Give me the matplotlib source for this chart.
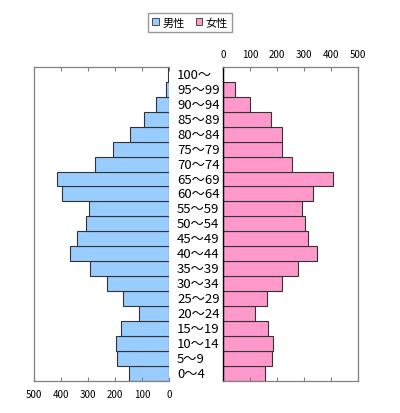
import matplotlib
matplotlib.use("Agg")
import matplotlib.pyplot as plt
from matplotlib.patches import Patch

plt.rcParams['font.family'] = ['Noto Sans CJK JP', 'DejaVu Sans']

ages = ["0～4", "5～9", "10～14", "15～19", "20～24", "25～29", "30～34",
        "35～39", "40～44", "45～49", "50～54", "55～59", "60～64", "65～69",
        "70～74", "75～79", "80～84", "85～89", "90～94", "95～99", "100～"]
male = [147, 191, 198, 179, 110, 172, 230, 291, 368, 342, 309, 295, 395, 414,
        273, 209, 144, 91, 49, 10, 5]
female = [157, 181, 185, 167, 119, 162, 219, 277, 348, 314, 304, 294, 333, 407,
          257, 220, 220, 177, 100, 44, 0]
ticks = [0, 100, 200, 300, 400, 500]

male_color = "#99CCFF"
female_color = "#FF99CC"
spine_gray = "#808080"

fig = plt.figure(figsize=(4.0, 4.14), dpi=100)
ax_l = fig.add_axes([0.085, 0.0785, 0.3375, 0.757])
ax_r = fig.add_axes([0.5575, 0.0785, 0.3375, 0.757])

y = list(range(len(ages)))
ax_l.barh(y, male, height=1.0, color=male_color, edgecolor="#333333", linewidth=0.8)
ax_r.barh(y, female, height=1.0, color=female_color, edgecolor="#333333", linewidth=0.8)

for ax in (ax_l, ax_r):
    ax.set_ylim(-0.5, len(ages) - 0.5)
    ax.set_xlim(0, 500)
    ax.set_yticks([])
    ax.set_xticks(ticks)
    ax.tick_params(axis="x", direction="in", length=3, color=spine_gray,
                   labelsize=7, top=True, bottom=True, pad=6)
    for s in ax.spines.values():
        s.set_color(spine_gray)
        s.set_linewidth(0.9)

ax_l.invert_xaxis()
ax_l.spines["right"].set_visible(False)
ax_l.tick_params(axis="x", labeltop=False, labelbottom=True)

ax_r.spines["left"].set_color("black")
ax_r.spines["left"].set_linewidth(1.0)
ax_r.tick_params(axis="x", labeltop=True, labelbottom=False)

for i, lab in enumerate(ages):
    ax_r.text(-170, i, lab, ha="left", va="center", fontsize=9.5, clip_on=False)

handles = [Patch(facecolor=male_color, edgecolor="#333333", linewidth=0.6, label="男性"),
           Patch(facecolor=female_color, edgecolor="#333333", linewidth=0.6, label="女性")]
fig.legend(handles=handles, loc="center", bbox_to_anchor=(0.475, 0.943), ncol=2,
           fontsize=8, frameon=True, fancybox=False, edgecolor=spine_gray,
           handlelength=0.6, handleheight=0.6, handletextpad=0.3, columnspacing=1.0,
           borderpad=0.35)

fig.savefig("out.png", dpi=100)
